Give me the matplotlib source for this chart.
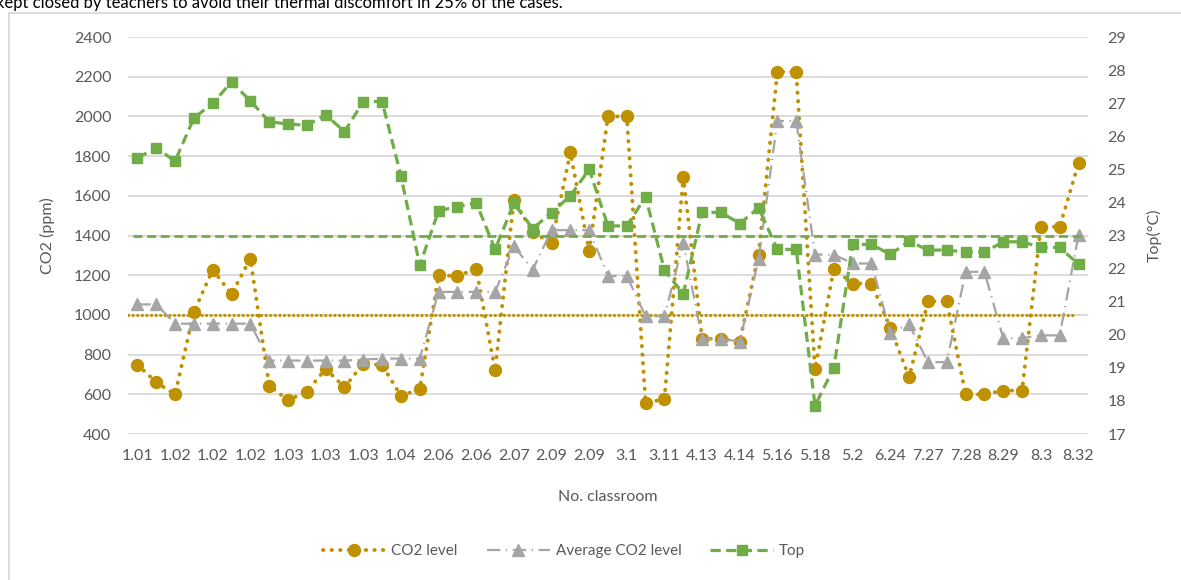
import numpy as np
import matplotlib
matplotlib.use("Agg")
import matplotlib.pyplot as plt
from matplotlib.patches import Rectangle

plt.rcParams["font.family"] = ["Lato", "DejaVu Sans"]

# 51 classrooms; every other label is shown on the axis
tick_labels = ["1.01", "1.02", "1.02", "1.02", "1.03", "1.03", "1.03", "1.04", "2.06",
               "2.06", "2.07", "2.09", "2.09", "3.1", "3.11", "4.13", "4.14", "5.16",
               "5.18", "5.2", "6.24", "7.27", "7.28", "8.29", "8.3", "8.32"]

co2_level = [750, 660, 600, 1015, 1228, 1104, 1284, 644, 570, 614,
             728, 636, 754, 748, 592, 627, 1200, 1195, 1233, 720,
             1578, 1418, 1360, 1819, 1321, 2000, 2000, 555, 577, 1695,
             880, 880, 865, 1304, 2225, 2225, 727, 1233, 1158, 1158,
             935, 686, 1068, 1068, 600, 600, 619, 619, 1444, 1444, 1764]

avg_co2 = [1053, 1053, 956, 956, 956, 956, 956, 770, 770, 770,
           770, 770, 775, 780, 780, 780, 1116, 1116, 1116, 1116,
           1346, 1228, 1427, 1427, 1427, 1196, 1196, 993, 993, 1363,
           880, 880, 866, 1280, 1977, 1977, 1304, 1304, 1259, 1259,
           910, 952, 762, 762, 1217, 1217, 883, 883, 897, 897, 1402]

top_temp = [25.35, 25.64, 25.25, 26.55, 27.0, 27.64, 27.07, 26.44, 26.37, 26.33,
            26.65, 26.14, 27.05, 27.05, 24.8, 22.1, 23.75, 23.87, 23.99, 22.58,
            23.97, 23.21, 23.69, 24.2, 25.0, 23.29, 23.29, 24.17, 21.95, 21.24,
            23.7, 23.7, 23.36, 23.84, 22.58, 22.58, 17.86, 19.0, 22.73, 22.73,
            22.43, 22.83, 22.56, 22.56, 22.5, 22.5, 22.81, 22.81, 22.64, 22.64, 22.13]

co2_limit = 1000
top_limit = 23

gold = "#BF9000"
grey = "#A5A5A5"
green = "#70AD47"
text_col = "#595959"

x = np.arange(len(co2_level))

fig = plt.figure(figsize=(11.81, 5.80), dpi=100)
fig.patches.append(Rectangle((9 / 1181, -0.1), 1.2, 1 - 13 / 580 + 0.1,
                             transform=fig.transFigure, fill=False,
                             edgecolor="#D9D9D9", linewidth=1.3))
fig.text(-0.003, 1 - 8 / 580,
         "kept closed by teachers to avoid their thermal discomfort in 25% of the cases.",
         fontsize=12, color="black", va="baseline", ha="left")

ax = fig.add_axes([0.1084, 0.2517, 0.8128, 0.6845])
ax2 = ax.twinx()

ax.plot(x, co2_level, color=gold, linewidth=2.8, linestyle=(0, (0.1, 2.1)),
        dash_capstyle="round", marker="o", markersize=8.6, label="CO2 level", zorder=3)
ax.plot(x, avg_co2, color=grey, linewidth=1.6, linestyle=(0, (6, 2.5, 0.6, 2.5)),
        marker="^", markersize=9, label="Average CO2 level", zorder=4)
ax.axhline(co2_limit, xmin=0.0, xmax=0.985, color=gold, linewidth=2.2,
           linestyle=(0, (0.1, 1.4)), dash_capstyle="round", zorder=2)

ax2.plot(x, top_temp, color=green, linewidth=2.3, linestyle=(0, (3.2, 1.7)),
         marker="s", markersize=7, label="Top", zorder=5)
ax2.axhline(top_limit, xmin=0.005, xmax=0.995, color=green, linewidth=2.0,
            linestyle=(0, (3.2, 1.7)), zorder=2)

ax.set_xlim(-0.5, len(co2_level) - 0.5)
ax.set_ylim(400, 2400)
ax.set_yticks(np.arange(400, 2401, 200))
ax2.set_ylim(17, 29)
ax2.set_yticks(np.arange(17, 30, 1))
ax.set_xticks(x[::2])
ax.set_xticklabels(tick_labels)

ax.grid(axis="y", color="#D9D9D9", linewidth=1.3)
ax.set_axisbelow(True)
for a in (ax, ax2):
    for s in a.spines.values():
        s.set_visible(False)
    a.tick_params(length=0, labelsize=11.5, labelcolor=text_col)
ax.tick_params(axis="y", pad=12)
ax2.tick_params(axis="y", pad=14)
ax.tick_params(axis="x", pad=11)

ax.set_xlabel("No. classroom", fontsize=11.5, color=text_col)
ax.xaxis.set_label_coords(0.5, -0.141)
ax.set_ylabel("CO2 (ppm)", fontsize=11.5, color=text_col)
ax.yaxis.set_label_coords(-0.076, 0.5)
ax2.set_ylabel("Top(°C)", fontsize=11.5, color=text_col, rotation=90)
ax2.yaxis.set_label_coords(1.061, 0.5)

handles = ax.get_legend_handles_labels()[0][:2] + ax2.get_legend_handles_labels()[0]
labels = ["CO2 level", "Average CO2 level", "Top"]
leg = fig.legend(handles, labels, loc="center", bbox_to_anchor=(564 / 1181, 29 / 580),
                 ncol=3, frameon=False, fontsize=11, handlelength=4.1,
                 columnspacing=1.9, handletextpad=0.4)
for t in leg.get_texts():
    t.set_color(text_col)

fig.savefig("out.png", dpi=100)
